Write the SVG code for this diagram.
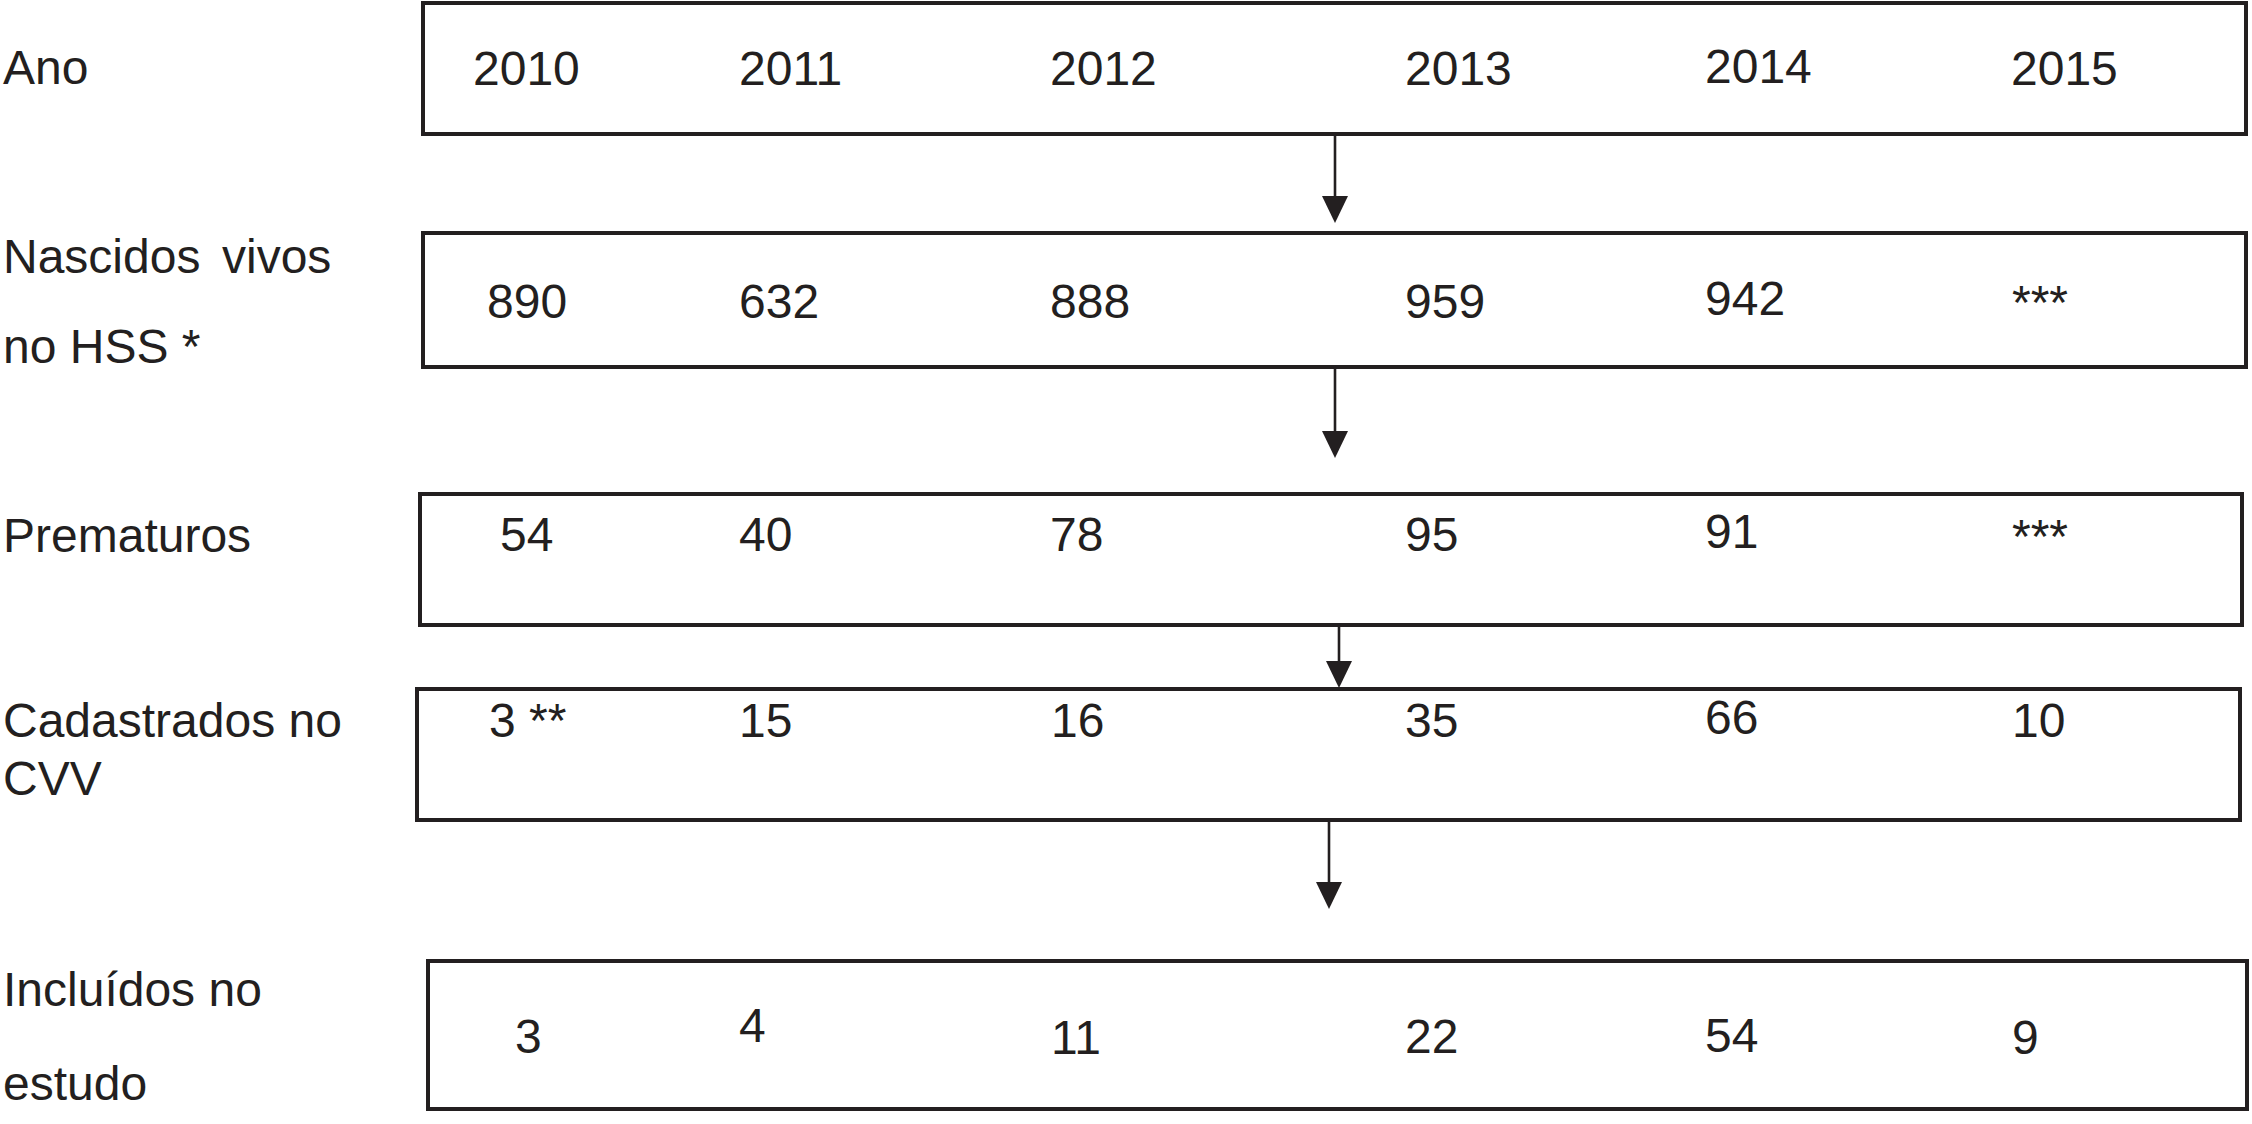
<svg xmlns="http://www.w3.org/2000/svg" width="2252" height="1124" viewBox="0 0 2252 1124">
  <style>
    text { font-family: "Liberation Sans", Arial, Helvetica, sans-serif; font-size: 48px; fill: #231f20; }
    .box { fill: #ffffff; stroke: #231f20; stroke-width: 4; }
    .conn { stroke: #231f20; stroke-width: 2.6; fill: none; marker-end: url(#ah); }
  </style>
  <defs>
    <marker id="ah" markerUnits="userSpaceOnUse" markerWidth="28" markerHeight="28" refX="22" refY="13" orient="auto" viewBox="0 0 28 26">
      <path d="M0,0 L27,13 L0,26 z" fill="#231f20"/>
    </marker>
  </defs>
  <rect width="2252" height="1124" fill="#ffffff"/>

  <g id="labels">
    <text x="3" y="84">Ano</text>
    <text x="3" y="273">Nascidos</text>
    <text x="222" y="273">vivos</text>
    <text x="3" y="363">no HSS *</text>
    <text x="3" y="552">Prematuros</text>
    <text x="3" y="737">Cadastrados no</text>
    <text x="3" y="795">CVV</text>
    <text x="3" y="1006">Incluídos no</text>
    <text x="3" y="1100">estudo</text>
  </g>

  <g id="node-ano">
    <rect class="box" x="423" y="3" width="1823" height="131"/>
    <text x="473" y="85">2010</text>
    <text x="739" y="85">2011</text>
    <text x="1050" y="85">2012</text>
    <text x="1405" y="85">2013</text>
    <text x="1705" y="83">2014</text>
    <text x="2011" y="85">2015</text>
  </g>

  <g id="node-nascidos">
    <rect class="box" x="423" y="233" width="1823" height="134"/>
    <text x="487" y="318">890</text>
    <text x="739" y="318">632</text>
    <text x="1050" y="318">888</text>
    <text x="1405" y="318">959</text>
    <text x="1705" y="315">942</text>
    <text x="2012" y="319">***</text>
  </g>

  <g id="node-prematuros">
    <rect class="box" x="420" y="494" width="1822" height="131"/>
    <text x="500" y="551">54</text>
    <text x="739" y="551">40</text>
    <text x="1050" y="551">78</text>
    <text x="1405" y="551">95</text>
    <text x="1705" y="548">91</text>
    <text x="2012" y="553">***</text>
  </g>

  <g id="node-cadastrados">
    <rect class="box" x="417" y="689" width="1823" height="131"/>
    <text x="489" y="737">3 **</text>
    <text x="739" y="737">15</text>
    <text x="1051" y="737">16</text>
    <text x="1405" y="737">35</text>
    <text x="1705" y="734">66</text>
    <text x="2012" y="737">10</text>
  </g>

  <g id="node-incluidos">
    <rect class="box" x="428" y="961" width="1819" height="148"/>
    <text x="515" y="1053">3</text>
    <text x="739" y="1042">4</text>
    <text x="1051" y="1054">11</text>
    <text x="1405" y="1053">22</text>
    <text x="1705" y="1052">54</text>
    <text x="2012" y="1054">9</text>
  </g>

  <g id="connectors">
    <line class="conn" x1="1335" y1="136" x2="1335" y2="218"/>
    <line class="conn" x1="1335" y1="369" x2="1335" y2="453"/>
    <line class="conn" x1="1339" y1="627" x2="1339" y2="683"/>
    <line class="conn" x1="1329" y1="822" x2="1329" y2="904"/>
  </g>
</svg>
